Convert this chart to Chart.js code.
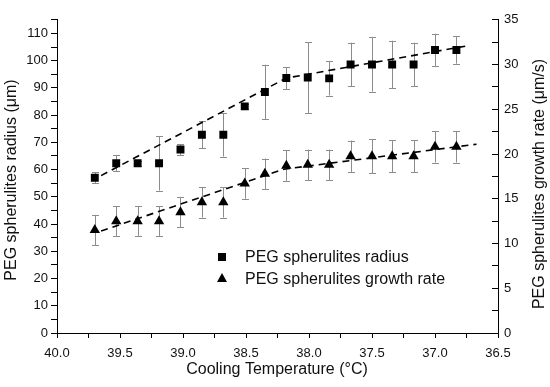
<!DOCTYPE html>
<html>
<head>
<meta charset="utf-8">
<script src="https://cdn.jsdelivr.net/npm/chart.js@4.4.1/dist/chart.umd.min.js"></script>
<style>
  body { margin: 0; background: #fff; }
  #wrap { width: 550px; height: 387px; }
</style>
</head>
<body>
<div id="wrap"><canvas id="chart" width="550" height="387"></canvas></div>
<script>
// Data
const temps = [39.70, 39.53, 39.36, 39.19, 39.02, 38.85, 38.68, 38.51, 38.35, 38.18, 38.01, 37.84, 37.67, 37.50, 37.34, 37.17, 37.00, 36.83];
const radius = [57.0, 62.3, 62.3, 62.3, 67.4, 72.8, 72.8, 83.2, 88.5, 93.6, 93.8, 93.5, 98.6, 98.6, 98.6, 98.6, 103.9, 103.9];
const radiusErr = [2, 3, 0.8, 10, 2, 5, 8, 0.8, 10, 4, 13, 6.3, 8, 10, 8.7, 8, 6, 5];
const growth = [11.5, 12.5, 12.5, 12.5, 13.5, 14.6, 14.6, 16.7, 17.8, 18.7, 18.8, 18.8, 19.75, 19.75, 19.75, 19.75, 20.8, 20.8];
const growthErr = [1.7, 1.65, 1.65, 1.65, 1.7, 1.7, 1.7, 1.7, 1.7, 1.7, 1.7, 1.7, 1.75, 1.9, 1.8, 1.8, 1.75, 1.75];

// dashed trend lines (two segments each)
const radiusFitX = [39.65, 38.18, 36.75];
const radiusFitY = [57.8, 93.6, 105.4];
const growthFitX = [39.65, 38.2, 36.67];
const growthFitY = [11.4, 18.3, 21.1];

const legendLabels = ['PEG spherulites radius', 'PEG spherulites growth rate'];
const xTitle = 'Cooling Temperature (°C)';
const yLeftTitle = 'PEG spherulites radius (μm)';
const yRightTitle = 'PEG spherulites growth rate (μm/s)';

const FONT = '"Liberation Sans", Arial, sans-serif';
Chart.defaults.font.family = FONT;
Chart.defaults.color = '#111';

const toPoints = (xs, ys) => xs.map((x, i) => ({ x: x, y: ys[i] }));

// error bars drawn behind the markers
const errorBars = {
    id: 'errorBars',
    beforeDatasetsDraw(chart) {
        const ctx = chart.ctx;
        const x = chart.scales.x;
        ctx.save();
        ctx.strokeStyle = '#8c8c8c';
        ctx.lineWidth = 1;
        [[radius, radiusErr, chart.scales.y], [growth, growthErr, chart.scales.y2]].forEach(([vals, errs, ys]) => {
            vals.forEach((v, i) => {
                const px = Math.round(x.getPixelForValue(temps[i])) + 0.5;
                const top = ys.getPixelForValue(v + errs[i]);
                const bot = ys.getPixelForValue(v - errs[i]);
                ctx.beginPath();
                ctx.moveTo(px, top); ctx.lineTo(px, bot);
                ctx.moveTo(px - 3.5, Math.round(top) + 0.5); ctx.lineTo(px + 3.5, Math.round(top) + 0.5);
                ctx.moveTo(px - 3.5, Math.round(bot) + 0.5); ctx.lineTo(px + 3.5, Math.round(bot) + 0.5);
                ctx.stroke();
            });
        });
        ctx.restore();
    }
};

// axis titles and the legend box inside the plot
const decorations = {
    id: 'decorations',
    afterDraw(chart) {
        const ctx = chart.ctx;
        ctx.save();
        ctx.fillStyle = '#111';
        ctx.font = '16px ' + FONT;
        ctx.textAlign = 'center';
        ctx.textBaseline = 'middle';
        ctx.fillText(xTitle, 277, 370);

        ctx.save();
        ctx.translate(12, 180);
        ctx.rotate(-Math.PI / 2);
        ctx.fillText(yLeftTitle, 0, 0);
        ctx.restore();

        ctx.save();
        ctx.translate(540, 184);
        ctx.rotate(-Math.PI / 2);
        ctx.fillText(yRightTitle, 0, 0);
        ctx.restore();

        // legend
        ctx.fillStyle = '#000';
        ctx.fillRect(218, 253, 8, 8);
        ctx.beginPath();
        ctx.moveTo(222, 273); ctx.lineTo(227, 282); ctx.lineTo(217, 282);
        ctx.closePath();
        ctx.fill();
        ctx.fillStyle = '#111';
        ctx.textAlign = 'left';
        ctx.fillText(legendLabels[0], 245, 258);
        ctx.fillText(legendLabels[1], 245, 280);
        ctx.restore();
    }
};

const chart = new Chart(document.getElementById('chart'), {
    type: 'scatter',
    data: {
        datasets: [
            {
                data: toPoints(temps, radius),
                yAxisID: 'y',
                pointStyle: 'rect',
                pointRadius: 5.6,
                backgroundColor: '#000',
                borderColor: '#000',
                borderWidth: 0
            },
            {
                data: toPoints(temps, growth),
                yAxisID: 'y2',
                pointStyle: 'triangle',
                pointRadius: 6,
                backgroundColor: '#000',
                borderColor: '#000',
                borderWidth: 0
            },
            {
                type: 'line',
                data: toPoints(radiusFitX, radiusFitY),
                yAxisID: 'y',
                borderColor: '#000',
                borderWidth: 1.6,
                borderDash: [7, 5],
                pointRadius: 0,
                fill: false
            },
            {
                type: 'line',
                data: toPoints(growthFitX, growthFitY),
                yAxisID: 'y2',
                borderColor: '#000',
                borderWidth: 1.6,
                borderDash: [7, 5],
                pointRadius: 0,
                fill: false
            }
        ]
    },
    options: {
        responsive: false,
        animation: false,
        layout: { padding: { top: 11, left: 0, right: 0, bottom: 0 } },
        plugins: { legend: { display: false }, tooltip: { enabled: false } },
        scales: {
            x: {
                type: 'linear',
                reverse: true,
                min: 36.5,
                max: 40,
                afterFit: s => { s.height = 54; },
                border: { display: true, color: '#000', width: 1 },
                grid: { drawOnChartArea: false, tickLength: 5, color: '#000' },
                ticks: {
                    stepSize: 0.25,
                    autoSkip: false,
                    maxRotation: 0,
                    padding: 8,
                    font: { size: 13 },
                    callback: v => (Math.abs(v * 2 - Math.round(v * 2)) < 1e-6 ? v.toFixed(1) : '')
                }
            },
            y: {
                position: 'left',
                min: 0,
                max: 115,
                afterFit: s => { s.width = 57; },
                border: { display: true, color: '#000', width: 1 },
                grid: { drawOnChartArea: false, tickLength: 6, color: '#000' },
                ticks: {
                    stepSize: 5,
                    autoSkip: false,
                    padding: 3,
                    font: { size: 13 },
                    callback: v => (v % 10 === 0 && v <= 110 ? v : '')
                }
            },
            y2: {
                position: 'right',
                min: 0,
                max: 35,
                afterFit: s => { s.width = 52; },
                border: { display: true, color: '#000', width: 1 },
                grid: { drawOnChartArea: false, tickLength: -6, color: '#000' },
                ticks: {
                    stepSize: 2.5,
                    autoSkip: false,
                    padding: 12,
                    font: { size: 13 },
                    callback: v => (v % 5 === 0 ? v : '')
                }
            }
        }
    },
    plugins: [errorBars, decorations]
});
</script>
</body>
</html>
